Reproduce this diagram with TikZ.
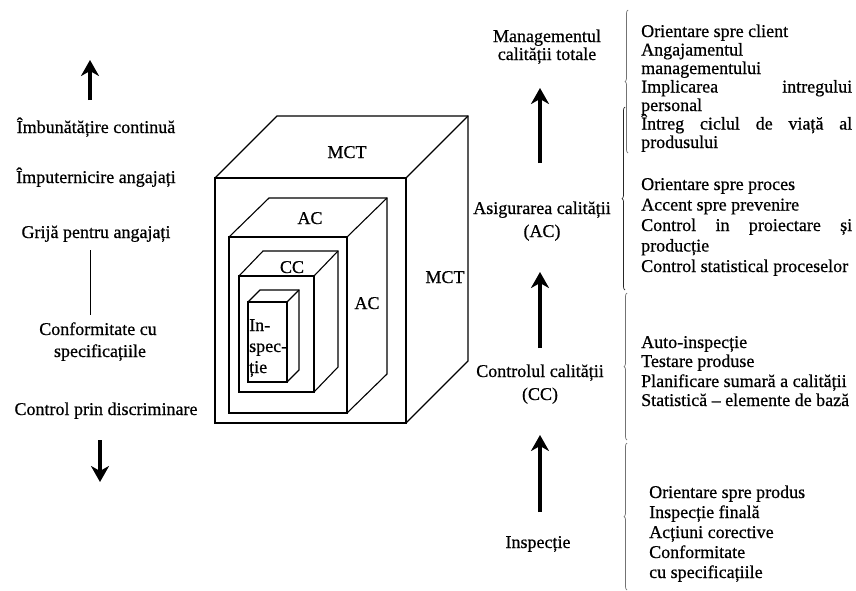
\documentclass[tikz,border=0pt]{standalone}
\usepackage{fontspec}
\setmainfont{Liberation Serif}[FakeBold=0.6]
\usetikzlibrary{arrows.meta,decorations.pathreplacing}
\newcommand\mycube[6]{%
  \draw[edge] (#1,#2) rectangle (#3,#4);
  \draw[edge] (#1,#2) -- ({#1+#5},{#2-#6}) -- ({#3+#5},{#2-#6}) -- ({#3+#5},{#4-#6}) -- (#3,#4);
  \draw[edge] (#3,#2) -- ({#3+#5},{#2-#6});
}
\begin{document}
\begin{tikzpicture}[x=1pt,y=-1pt,
  txt/.style={inner sep=0pt, font=\fontsize{18}{18.5}\selectfont},
  lw/.style={txt, anchor=base west},
  cb/.style={txt, anchor=base},
  big/.style={line width=4pt, -{Stealth[length=16pt,width=18pt,inset=5pt]}},
  brk/.style={decorate, decoration={brace,amplitude=3pt}, draw=black!55, line width=0.7pt},
  edge/.style={line width=1.1pt, line join=miter}
]
\useasboundingbox (0,0) rectangle (856,590);

% ---- left column ----
\coordinate (la1) at (90,100); \coordinate (la2) at (90,60);
\draw[big] (la1) -- (la2);
\node[cb] (l1) at (96,133) {Îmbunătățire continuă};
\node[cb] (l2) at (96,183) {Împuternicire angajați};
\node[cb] (l3) at (96,238) {Grijă pentru angajați};
\coordinate (lt1) at (90,250); \coordinate (lt2) at (90,315);
\draw[line width=0.8pt] (lt1) -- (lt2);
\node[cb] (l4) at (98,335) {Conformitate cu};
\node[cb] (l5) at (100,357) {specificațiile};
\node[cb] (l6) at (106,415) {Control prin discriminare};
\coordinate (ld1) at (100,440); \coordinate (ld2) at (100,482);
\draw[big] (ld1) -- (ld2);

% ---- cubes ----
\mycube{215}{178}{406}{423}{62}{62}
\mycube{229}{237}{347}{413}{40}{39}
\mycube{239}{276}{314}{392}{24}{25}
\mycube{248}{302}{287}{382}{12}{12}
\node[cb] (mct1) at (347,158) {MCT};
\node[cb] (mct2) at (445,283) {MCT};
\node[cb] (ac1) at (310,224) {AC};
\node[cb] (ac2) at (367,309) {AC};
\node[cb] (cc1) at (292,273) {CC};
\node[lw] (in1) at (249,331) {In-};
\node[lw] (in2) at (249,352) {spec-};
\node[lw] (in3) at (249,373) {ție};

% ---- central column ----
\node[cb] (m1) at (547,42) {Managementul};
\node[cb] (m2) at (547,60) {calității totale};
\coordinate (a1s) at (540,163); \coordinate (a1e) at (540,88);
\draw[big] (a1s) -- (a1e);
\node[cb] (asg1) at (542,214) {Asigurarea calității};
\node[cb] (asg2) at (542,237) {(AC)};
\coordinate (a2s) at (540,348); \coordinate (a2e) at (540,272);
\draw[big] (a2s) -- (a2e);
\node[cb] (ctl1) at (540,377) {Controlul calității};
\node[cb] (ctl2) at (540,400) {(CC)};
\coordinate (a3s) at (540,512); \coordinate (a3e) at (540,435);
\draw[big] (a3s) -- (a3e);
\node[cb] (insp) at (538,548) {Inspecție};

% ---- brackets ----
\coordinate (b1a) at (628,153); \coordinate (b1b) at (628,10);
\coordinate (b2a) at (625,290); \coordinate (b2b) at (625,107);
\coordinate (b3a) at (627,440); \coordinate (b3b) at (627,293);
\coordinate (b4a) at (627,590); \coordinate (b4b) at (627,443);
\draw[brk] (b1a) -- (b1b);
\draw[brk, draw=black!85] (b2a) -- (b2b);
\draw[brk] (b3a) -- (b3b);
\draw[brk] (b4a) -- (b4b);

% ---- right text blocks ----
\node[lw] (r11) at (641,37) {Orientare spre client};
\node[lw] (r12) at (641,55.5) {Angajamentul};
\node[lw] (r13) at (641,74) {managementului};
\node[lw] (r14) at (641,92.5) {\makebox[211pt][s]{Implicarea intregului}};
\node[lw] (r15) at (641,111) {personal};
\node[lw] (r16) at (641,129.5) {\makebox[211pt][s]{Întreg ciclul de viață al}};
\node[lw] (r17) at (641,148) {produsului};

\node[lw] (r21) at (641,190) {Orientare spre proces};
\node[lw] (r22) at (641,210.5) {Accent spre prevenire};
\node[lw] (r23) at (641,231) {\makebox[211pt][s]{Control in proiectare și}};
\node[lw] (r24) at (641,251.5) {producție};
\node[lw] (r25) at (641,272) {Control statistical proceselor};

\node[lw] (r31) at (641,348) {Auto-inspecție};
\node[lw] (r32) at (641,367) {Testare produse};
\node[lw] (r33) at (641,387) {Planificare sumară a calității};
\node[lw] (r34) at (641,406) {Statistică – elemente de bază};

\node[lw] (r41) at (649,498) {Orientare spre produs};
\node[lw] (r42) at (649,518) {Inspecție finală};
\node[lw] (r43) at (649,538) {Acțiuni corective};
\node[lw] (r44) at (649,558) {Conformitate};
\node[lw] (r45) at (649,578) {cu specificațiile};
\end{tikzpicture}
\end{document}
